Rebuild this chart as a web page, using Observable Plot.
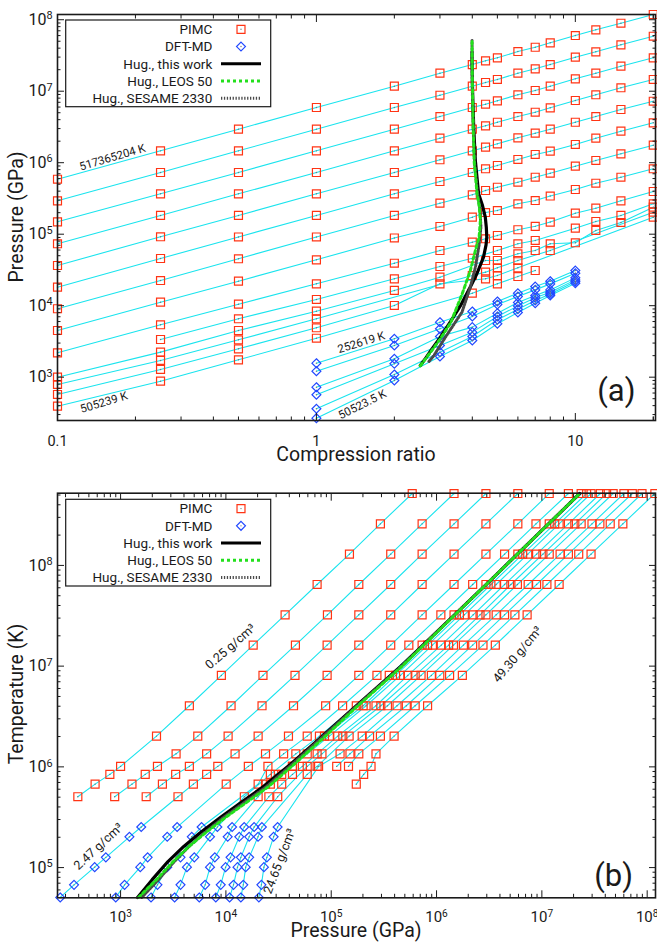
<!DOCTYPE html>
<html><head><meta charset="utf-8">
<script src="https://cdn.jsdelivr.net/npm/d3@7"></script>
<script src="https://cdn.jsdelivr.net/npm/@observablehq/plot@0.6"></script>
<style>
body{margin:0;background:#fff;}
#wrap{position:relative;width:657px;height:944px;overflow:hidden;}
#wrap svg{display:block;overflow:visible;}
</style></head><body><div id="wrap"></div>
<script>
// ---------- DATA (log10 of pressure in GPa) ----------
const ratios = [0.1, 0.25, 0.5, 1, 2, 3, 4, 4.5, 5, 6, 7, 8, 10, 12, 15, 20];
const isochoreLabels = ["0.25 g/cm³", "2.47 g/cm³", "24.65 g/cm³", "49.30 g/cm³"];
const isothermLabels = ["517365204 K", "505239 K", "252619 K", "50523.5 K"];
const pimcTemps = [517365204, 258682602, 129341301, 64670651, 32335325, 16167663, 8083831, 4041916, 2020958, 1347305, 1010479, 842066, 673652, 505239];
const logP_T517365204 = [5.769, 6.166, 6.469, 6.772, 7.070, 7.252, 7.373, 7.425, 7.467, 7.555, 7.615, 7.677, 7.779, 7.859, 7.951, 8.073];
const logP_T258682602 = [5.467, 5.863, 6.166, 6.469, 6.772, 6.944, 7.070, 7.122, 7.164, 7.252, 7.313, 7.373, 7.476, 7.551, 7.649, 7.769];
const logP_T129341301 = [5.173, 5.565, 5.863, 6.166, 6.469, 6.646, 6.772, 6.818, 6.866, 6.950, 7.010, 7.070, 7.173, 7.252, 7.350, 7.467];
const logP_T64670651  = [4.866, 5.262, 5.565, 5.863, 6.166, 6.343, 6.469, 6.516, 6.566, 6.646, 6.706, 6.768, 6.870, 6.950, 7.048, 7.164];
const logP_T32335325  = [4.562, 4.964, 5.262, 5.565, 5.863, 6.041, 6.166, 6.217, 6.264, 6.348, 6.413, 6.469, 6.566, 6.646, 6.744, 6.860];
const logP_T16167663  = [4.259, 4.660, 4.961, 5.262, 5.565, 5.737, 5.863, 5.915, 5.961, 6.045, 6.115, 6.161, 6.255, 6.343, 6.441, 6.558];
const logP_T8083831   = [3.957, 4.352, 4.656, 4.961, 5.262, 5.434, 5.551, 5.611, 5.657, 5.727, 5.797, 5.853, 5.951, 6.031, 6.124, 6.245];
const logP_T4041916   = [3.653, 4.049, 4.343, 4.642, 4.947, 5.108, 5.238, 5.303, 5.331, 5.425, 5.471, 5.534, 5.625, 5.713, 5.797, 5.915];
const logP_T2020958   = [3.341, 3.733, 4.021, 4.306, 4.594, 4.772, 4.888, 4.936, 4.982, 5.062, 5.110, 5.170, 5.294, 5.364, 5.467, 5.597];
const logP_T1347305   = [null, 3.527, 3.817, 4.087, 4.376, 4.548, 4.664, null, 4.772, 4.866, 4.912, null, 5.084, 5.178, 5.262, 5.425];
const logP_T1010479   = [3.000, 3.350, 3.653, 3.923, 4.213, 4.399, null, 4.632, 4.632, 4.726, 4.772, 4.866, 4.880, 5.052, 5.164, 5.378];
const logP_T842066    = [2.898, 3.234, 3.523, 3.817, null, null, 4.422, 4.469, 4.530, 4.632, null, 4.772, null, null, null, 5.308];
const logP_T673652    = [2.758, 3.108, 3.397, 3.691, 4.003, 4.306, null, 4.376, 4.422, 4.530, null, null, null, null, null, 5.238];
const logP_T505239    = [2.594, 2.944, 3.243, 3.545, null, null, 4.175, null, 4.306, 4.408, 4.492, null, null, null, null, null];
const pimcRows = [logP_T517365204, logP_T258682602, logP_T129341301, logP_T64670651, logP_T32335325, logP_T16167663, logP_T8083831, logP_T4041916, logP_T2020958, logP_T1347305, logP_T1010479, logP_T842066, logP_T673652, logP_T505239];

const dftRatios = [1, 2, 3, 4, 5, 6, 7, 8, 10];
const dftTemps = [252619, 202094, 126309, 101047, 67364.7, 50523.5];
const dftLogP_T252619 = [3.196, 3.537, 3.769, 3.919, 4.059, 4.174, 4.268, 4.342, 4.491];
const dftLogP_T202094 = [3.084, 3.443, 3.676, 3.849, 4.017, 4.127, 4.221, 4.305, 4.453];
const dftLogP_T126309 = [2.860, 3.257, 3.569, 3.700, 3.895, 4.044, 4.142, 4.221, 4.389];
const dftLogP_T101047 = [2.754, 3.187, 3.443, 3.630, 3.849, 3.997, 4.110, 4.188, 4.361];
const dftLogP_T67365  = [2.558, 3.038, 3.350, 3.569, 3.803, 3.951, 4.072, 4.165, 4.337];
const dftLogP_T50523  = [2.427, 2.954, 3.289, 3.513, 3.747, 3.904, 4.035, 4.142, 4.313];
const dftRows = [dftLogP_T252619, dftLogP_T202094, dftLogP_T126309, dftLogP_T101047, dftLogP_T67365, dftLogP_T50523];

// Hugoniot curves, panel (a): compression ratio vs log10 P
const hugA_work_ratio   = [2.52, 2.66, 2.80, 3.00, 3.30, 3.60, 3.93, 4.17, 4.42, 4.52, 4.55, 4.53, 4.49, 4.38, 4.23, 4.11, 4.05, 4.01, 3.99, 3.99];
const hugA_work_logP    = [3.164, 3.28, 3.40, 3.55, 3.78, 4.00, 4.26, 4.45, 4.68, 4.85, 4.96, 5.10, 5.24, 5.40, 5.565, 6.03, 6.50, 7.00, 7.40, 7.55];
const hugA_leos_ratio   = [2.52, 2.80, 3.00, 3.30, 3.66, 3.93, 4.11, 4.25, 4.30, 4.25, 4.17, 4.12, 4.07, 4.03, 4.00, 3.99];
const hugA_leos_logP    = [3.16, 3.38, 3.53, 3.76, 4.17, 4.49, 4.77, 4.96, 5.20, 5.40, 5.57, 5.80, 6.00, 6.50, 7.20, 7.71];
const hugA_sesame_ratio = [2.72, 2.84, 3.15, 3.65, 3.93, 4.12, 4.25, 4.32, 4.28, 4.18, 4.08, 4.03, 4.00, 3.99];
const hugA_sesame_logP  = [3.22, 3.30, 3.56, 3.91, 4.26, 4.55, 4.85, 5.10, 5.35, 5.60, 6.00, 6.50, 7.00, 7.71];
// Hugoniot curves, panel (b): log10 P vs log10 T
const hugB_logT        = [4.703, 4.88, 5.06, 5.21, 5.34, 5.50, 5.65, 5.80, 6.027, 6.29, 6.555, 6.997, 7.84, 8.714];
const hugB_work_logP   = [3.161, 3.30, 3.45, 3.60, 3.75, 3.95, 4.15, 4.35, 4.614, 4.90, 5.183, 5.66, 6.50, 7.36];
const hugB_leos_logP   = [3.17, 3.34, 3.50, 3.65, 3.80, 4.00, 4.20, 4.40, 4.65, 4.93, 5.20, 5.67, 6.50, 7.36];
const hugB_sesame_logP = [3.20, 3.36, 3.51, 3.65, 3.79, 3.98, 4.18, 4.38, 4.63, 4.91, 5.19, 5.665, 6.50, 7.36];

const ticksA_x = [0.1, 1, 10];
const ticksA_y = [1e3, 1e4, 1e5, 1e6, 1e7, 1e8];
const ticksB_x = [1e3, 1e4, 1e5, 1e6, 1e7, 1e8];
const ticksB_y = [1e5, 1e6, 1e7, 1e8];
const legendLabels = ["PIMC", "DFT-MD", "Hug., this work", "Hug., LEOS 50", "Hug., SESAME 2330"];

// ---------- build tables ----------
const pimc = [];
pimcRows.forEach((row, i) => row.forEach((v, j) => { if (v != null) pimc.push({T: pimcTemps[i], ratio: ratios[j], P: 10 ** v}); }));
const dft = [];
dftRows.forEach((row, i) => row.forEach((v, j) => { if (v != null) dft.push({T: dftTemps[i], ratio: dftRatios[j], P: 10 ** v}); }));
const isoB = [...pimc, ...dft].sort((a, b) => a.T - b.T);
const hugA_work = hugA_work_ratio.map((r, i) => ({r, P: 10 ** hugA_work_logP[i]}));
const hugA_leos = hugA_leos_ratio.map((r, i) => ({r, P: 10 ** hugA_leos_logP[i]}));
const hugA_sesame = hugA_sesame_ratio.map((r, i) => ({r, P: 10 ** hugA_sesame_logP[i]}));
const hugB_work = hugB_logT.map((t, i) => ({T: 10 ** t, P: 10 ** hugB_work_logP[i]}));
const hugB_leos = hugB_logT.map((t, i) => ({T: 10 ** t, P: 10 ** hugB_leos_logP[i]}));
const hugB_sesame = hugB_logT.map((t, i) => ({T: 10 ** t, P: 10 ** hugB_sesame_logP[i]}));

// ---------- style ----------
const FONT = "Roboto, 'Noto Sans', sans-serif";
const CYAN = "#1ae4ee", RED = "#ff3414", BLUE = "#2148ff", GREEN = "#22e01c", GRAY = "#4a4a4a", INK = "#1a1a1a";

function minorLog(lo, hi) {
  const out = [];
  for (let e = Math.floor(Math.log10(lo)) - 1; e <= Math.ceil(Math.log10(hi)); e++)
    for (let m = 2; m <= 9; m++) { const v = +(m * 10 ** e).toPrecision(3); if (v > lo * 1.0001 && v < hi / 1.0001) out.push(v); }
  return out;
}
const blank = () => "";
function boxAxes(xMaj, xMin, yMaj, yMin) {
  const m = [];
  for (const a of ["bottom", "top"]) {
    m.push(Plot.axisX({anchor: a, ticks: xMaj, tickSize: -7, tickFormat: blank, label: null, stroke: INK}));
    m.push(Plot.axisX({anchor: a, ticks: xMin, tickSize: -3.5, tickFormat: blank, label: null, stroke: INK}));
  }
  for (const a of ["left", "right"]) {
    m.push(Plot.axisY({anchor: a, ticks: yMaj, tickSize: -7, tickFormat: blank, label: null, stroke: INK}));
    m.push(Plot.axisY({anchor: a, ticks: yMin, tickSize: -3.5, tickFormat: blank, label: null, stroke: INK}));
  }
  return m;
}
const pow = d => "10^" + Math.round(Math.log10(d));
const dotStyle = {symbol: "square", r: 4.5, stroke: RED, strokeWidth: 1.2, fill: "white", fillOpacity: 0};
const diaStyle = {symbol: "diamond2", r: 4, stroke: BLUE, strokeWidth: 1.2, fill: "white", fillOpacity: 0};

// ---------- panel (a) ----------
const aX = [0.1, 20.4], aY = [10 ** 2.394, 10 ** 8.073];
const plotA = Plot.plot({
  width: 657, height: 470, marginLeft: 57, marginRight: 2, marginTop: 14, marginBottom: 50,
  style: {fontFamily: FONT, fontSize: "15px", color: INK, background: "white", overflow: "visible"},
  x: {type: "log", domain: aX},
  y: {type: "log", domain: aY},
  marks: [
    Plot.line(pimc, {x: "ratio", y: "P", z: "T", stroke: CYAN, strokeWidth: 1.1}),
    Plot.line(dft, {x: "ratio", y: "P", z: "T", stroke: CYAN, strokeWidth: 1.1}),
    Plot.dot(pimc, {x: "ratio", y: "P", ...dotStyle}),
    Plot.dot(dft, {x: "ratio", y: "P", ...diaStyle}),
    Plot.dot([...pimc, ...dft], {x: "ratio", y: "P", r: 0.7, fill: "#777"}),
    Plot.line(hugA_work, {x: "r", y: "P", stroke: "black", strokeWidth: 3.2}),
    Plot.line(hugA_sesame, {x: "r", y: "P", stroke: GRAY, strokeWidth: 3, strokeDasharray: "1.3,1.6"}),
    Plot.line(hugA_leos, {x: "r", y: "P", stroke: GREEN, strokeWidth: 3, strokeDasharray: "3,3"}),
    Plot.text([isothermLabels[0]], {x: 0.163, y: 10 ** 6.073, rotate: -16.5, fontSize: 11.5, fill: INK}),
    Plot.text([isothermLabels[1]], {x: 0.151, y: 10 ** 2.646, rotate: -16.7, fontSize: 11.5, fill: INK}),
    Plot.text([isothermLabels[2]], {x: 1.49, y: 10 ** 3.485, rotate: -17, fontSize: 11.5, fill: INK}),
    Plot.text([isothermLabels[3]], {x: 1.505, y: 10 ** 2.618, rotate: -26.6, fontSize: 11.5, fill: INK}),
    Plot.text(["(a)"], {x: 14.4, y: 10 ** 2.80, fontSize: 31, fill: INK}),
    ...boxAxes(ticksA_x, minorLog(aX[0], aX[1]).concat([20]), ticksA_y, minorLog(aY[0], aY[1])),
    Plot.axisX({anchor: "bottom", ticks: ticksA_x, tickSize: 0, tickPadding: 15, tickFormat: d => String(d), label: null, fontSize: 14.5}),
    Plot.axisY({anchor: "left", ticks: ticksA_y, tickSize: 0, tickPadding: 5, tickFormat: pow, label: null, fontSize: 16}),
    Plot.frame({stroke: INK, strokeWidth: 1.6})
  ]
});

// ---------- panel (b) ----------
const bX = [10 ** 2.401, 10 ** 8.079], bY = [10 ** 4.700, 10 ** 8.717];
const plotB = Plot.plot({
  width: 657, height: 474, marginLeft: 57, marginRight: 2, marginTop: 22.7, marginBottom: 46.7,
  style: {fontFamily: FONT, fontSize: "15px", color: INK, background: "white", overflow: "visible"},
  x: {type: "log", domain: bX},
  y: {type: "log", domain: bY},
  marks: [
    Plot.line(isoB, {x: "P", y: "T", z: "ratio", stroke: CYAN, strokeWidth: 1.1}),
    Plot.dot(pimc, {x: "P", y: "T", ...dotStyle}),
    Plot.dot(dft, {x: "P", y: "T", ...diaStyle}),
    Plot.dot([...pimc, ...dft], {x: "P", y: "T", r: 0.7, fill: "#777"}),
    Plot.line(hugB_work, {x: "P", y: "T", stroke: "black", strokeWidth: 3.2}),
    Plot.line(hugB_sesame, {x: "P", y: "T", stroke: GRAY, strokeWidth: 3, strokeDasharray: "1.3,1.6"}),
    Plot.line(hugB_leos, {x: "P", y: "T", stroke: GREEN, strokeWidth: 3, strokeDasharray: "3,3"}),
    Plot.text([isochoreLabels[0]], {x: 10 ** 4.044, y: 10 ** 7.194, rotate: -41, fontSize: 12.5, fill: INK}),
    Plot.text([isochoreLabels[1]], {x: 10 ** 2.790, y: 10 ** 5.210, rotate: -43, fontSize: 12.5, fill: INK}),
    Plot.text([isochoreLabels[2]], {x: 10 ** 4.509, y: 10 ** 5.062, rotate: -69, fontSize: 12.5, fill: INK}),
    Plot.text([isochoreLabels[3]], {x: 10 ** 6.770, y: 10 ** 7.116, rotate: -50, fontSize: 12.5, fill: INK}),
    Plot.text(["(b)"], {x: 10 ** 7.681, y: 10 ** 4.914, fontSize: 31, fill: INK}),
    ...boxAxes(ticksB_x, minorLog(bX[0], bX[1]), ticksB_y, minorLog(bY[0], bY[1])),
    Plot.axisX({anchor: "bottom", ticks: ticksB_x, tickSize: 0, tickPadding: 14, tickFormat: pow, label: null, fontSize: 15}),
    Plot.axisY({anchor: "left", ticks: ticksB_y, tickSize: 0, tickPadding: 5, tickFormat: pow, label: null, fontSize: 16}),
    Plot.frame({stroke: INK, strokeWidth: 1.6})
  ]
});

// ---------- post-processing: superscripts, titles, legends ----------
const NS = "http://www.w3.org/2000/svg";
function supers(svg) {
  svg.querySelectorAll("text").forEach(t => {
    const m = /^10\^(-?\d+)$/.exec(t.textContent);
    if (!m) return;
    while (t.firstChild) t.removeChild(t.firstChild);
    const a = document.createElementNS(NS, "tspan"); a.textContent = "10"; t.appendChild(a);
    const b = document.createElementNS(NS, "tspan"); b.textContent = m[1];
    b.setAttribute("dy", "-0.5em"); b.setAttribute("font-size", "0.68em"); t.appendChild(b);
  });
}
function title(svg, txt, x, y, rot) {
  d3.select(svg).append("text").attr("transform", `translate(${x},${y}) rotate(${rot})`)
    .attr("text-anchor", "middle").attr("font-family", FONT).attr("font-size", 19.5).attr("fill", INK).text(txt);
}
function legend(svg, x0, y0) {
  const g = d3.select(svg).append("g").attr("font-family", FONT).attr("font-size", 13.5).attr("fill", INK);
  g.append("rect").attr("x", x0).attr("y", y0).attr("width", 205).attr("height", 86.7)
    .attr("fill", "white").attr("stroke", INK).attr("stroke-width", 1.2);
  const rowY = i => y0 + 9.3 + i * 17.25;
  legendLabels.forEach((lab, i) => {
    g.append("text").attr("x", x0 + 146.6).attr("y", rowY(i)).attr("dy", "0.35em").attr("text-anchor", "end").text(lab);
  });
  const sx = x0 + 175.3;
  g.append("path").attr("transform", `translate(${sx},${rowY(0)})`).attr("d", d3.symbol(d3.symbolSquare, Math.PI * 4.5 * 4.5)())
    .attr("fill", "none").attr("stroke", RED).attr("stroke-width", 1.2);
  g.append("circle").attr("cx", sx).attr("cy", rowY(0)).attr("r", 0.7).attr("fill", "#777");
  g.append("path").attr("transform", `translate(${sx},${rowY(1)})`).attr("d", d3.symbol(d3.symbolDiamond2, Math.PI * 16)())
    .attr("fill", "none").attr("stroke", BLUE).attr("stroke-width", 1.2);
  g.append("circle").attr("cx", sx).attr("cy", rowY(1)).attr("r", 0.7).attr("fill", "#777");
  const seg = (i, stroke, dash) => g.append("line").attr("x1", x0 + 155.3).attr("x2", x0 + 195.3).attr("y1", rowY(i)).attr("y2", rowY(i))
    .attr("stroke", stroke).attr("stroke-width", 3).attr("stroke-dasharray", dash);
  seg(2, "black", null); seg(3, GREEN, "3,3"); seg(4, GRAY, "1.3,1.6");
}

supers(plotA); supers(plotB);
title(plotA, "Pressure (GPa)", 23, 217, -90);
title(plotA, "Compression ratio", 356, 461, 0);
title(plotB, "Temperature (K)", 23, 224, -90);
title(plotB, "Pressure (GPa)", 356, 467, 0);
legend(plotA, 65.7, 20);
legend(plotB, 65.7, 29.3);

const wrap = document.getElementById("wrap");
wrap.appendChild(plotA);
wrap.appendChild(plotB);
</script></body></html>
